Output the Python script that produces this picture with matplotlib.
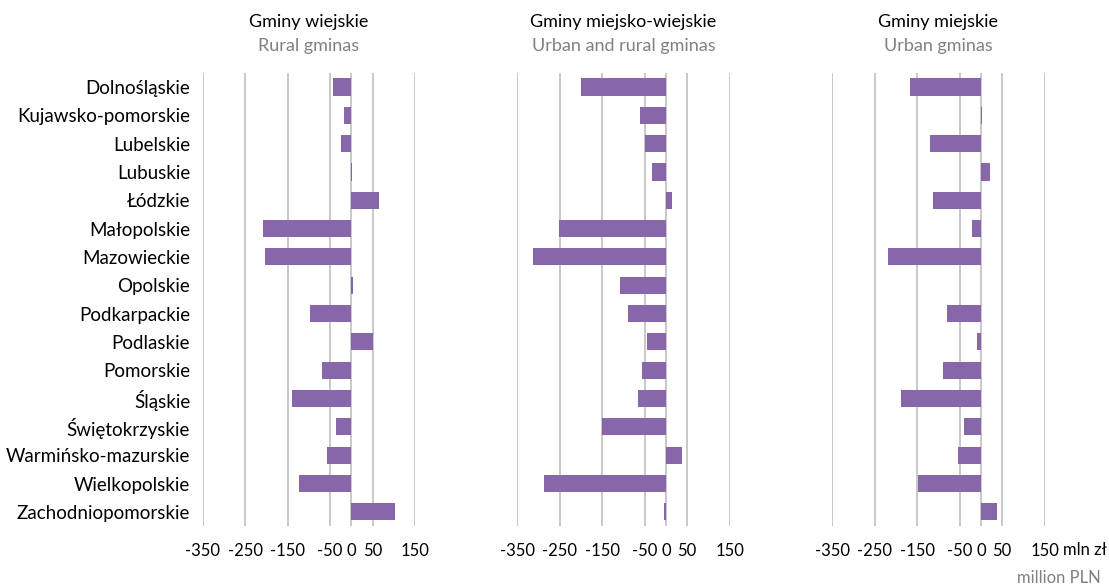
import matplotlib
matplotlib.use("Agg")
import matplotlib.pyplot as plt

regions = ["Dolnośląskie", "Kujawsko-pomorskie", "Lubelskie", "Lubuskie", "Łódzkie",
           "Małopolskie", "Mazowieckie", "Opolskie", "Podkarpackie", "Podlaskie",
           "Pomorskie", "Śląskie", "Świętokrzyskie", "Warmińsko-mazurskie",
           "Wielkopolskie", "Zachodniopomorskie"]

rural = [-43, -17, -24, 1, 65, -209, -204, 5, -98, 51, -69, -140, -36, -57, -124, 103]
urban_rural = [-199, -60, -49, -32, 14, -251, -314, -107, -89, -44, -56, -65, -150, 38, -286, -4]
urban = [-167, 3, -120, 21, -113, -21, -219, 0, -80, -9, -89, -188, -40, -54, -148, 38]

titles_pl = ["Gminy wiejskie", "Gminy miejsko-wiejskie", "Gminy miejskie"]
titles_en = ["Rural gminas", "Urban and rural gminas", "Urban gminas"]

xticks = [-350, -250, -150, -50, 0, 50, 150]
xticklabels = ["-350", "-250", "-150", "-50", "0", "50", "150"]

plt.rcParams['font.family'] = ['Lato', 'DejaVu Sans']

W, H = 1109, 585
fig = plt.figure(figsize=(W / 100, H / 100), dpi=100)

bar_color = "#8767A9"
grid_color = "#BFBFBF"

lefts_px = [202.7, 517.3, 832.3]
width_px = 212.3
top_px, bottom_px = 72.7, 526.0

series = [rural, urban_rural, urban]
for i, (vals, left) in enumerate(zip(series, lefts_px)):
    ax = fig.add_axes([left / W, 1 - bottom_px / H, width_px / W, (bottom_px - top_px) / H])
    y = list(range(len(regions)))
    for xt in xticks:
        ax.axvline(xt, color=grid_color, lw=1.2, zorder=0)
    ax.barh(y, vals, height=0.61, color=bar_color, zorder=2)
    ax.set_xlim(-350, 150)
    ax.set_ylim(len(regions) - 0.5, -0.5)
    for s in ax.spines.values():
        s.set_visible(False)
    ax.set_xticks(xticks)
    ax.set_xticklabels(xticklabels, fontsize=12)
    ax.tick_params(axis='x', length=0, pad=12)
    ax.set_yticks(y)
    if i == 0:
        ax.set_yticklabels(regions, fontsize=13.5)
        ax.tick_params(axis='y', length=0, pad=9)
    else:
        ax.set_yticklabels([])
        ax.tick_params(axis='y', length=0)
    cx = (left + width_px / 2) / W
    fig.text(cx, 1 - 22 / H, titles_pl[i], ha='center', va='center', fontsize=13, color='black')
    fig.text(cx, 1 - 46 / H, titles_en[i], ha='center', va='center', fontsize=13, color='#808080')

fig.text(1063 / W, 1 - 550 / H, "mln zł", ha='left', va='center', fontsize=12, color='black')
fig.text(1101 / W, 1 - 578 / H, "million PLN", ha='right', va='center', fontsize=12, color='#808080')

fig.savefig("out.png", dpi=100)
